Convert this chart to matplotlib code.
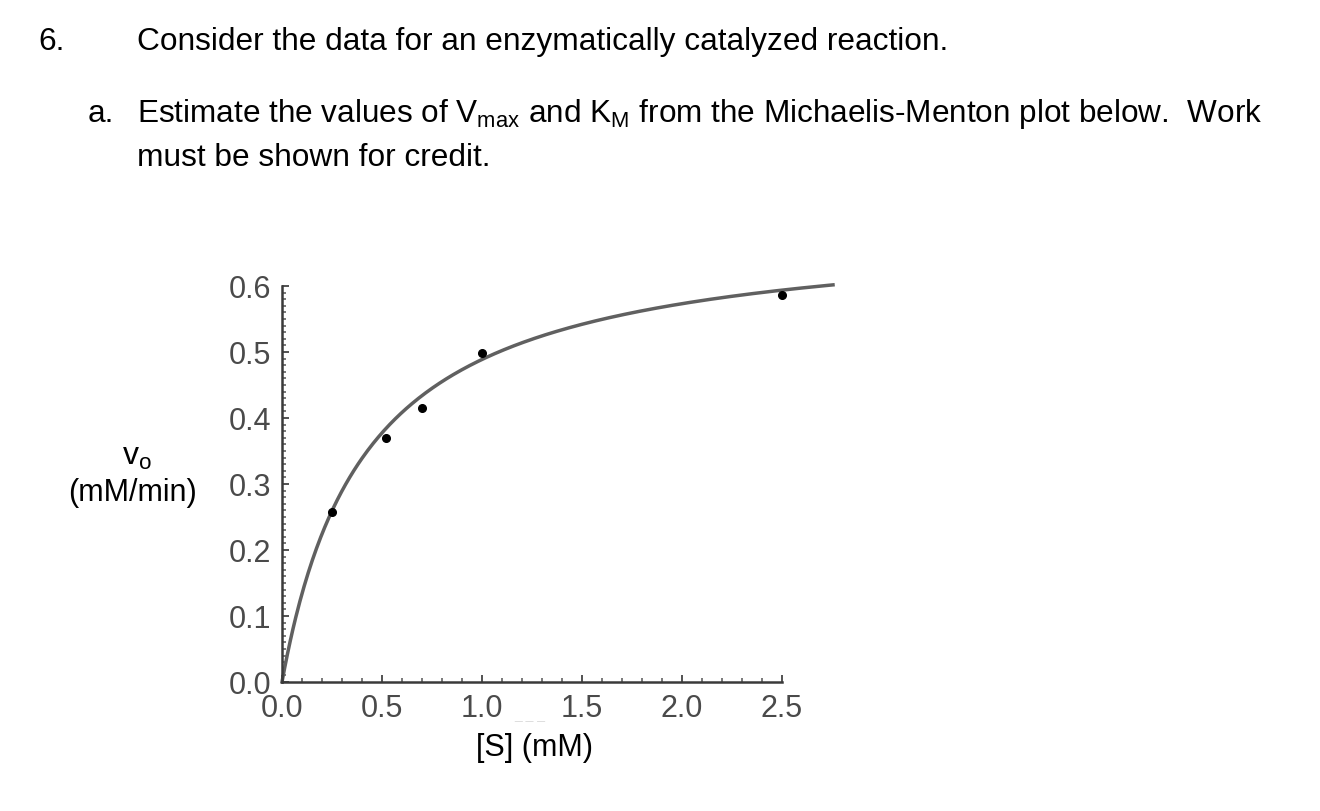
import numpy as np
import matplotlib
matplotlib.use("Agg")
import matplotlib.pyplot as plt
from matplotlib.ticker import MultipleLocator, FormatStrFormatter

plt.rcParams['font.family'] = ['Liberation Sans', 'DejaVu Sans']
plt.rcParams['mathtext.fontset'] = 'custom'
plt.rcParams['mathtext.rm'] = 'Liberation Sans'
plt.rcParams['mathtext.it'] = 'Liberation Sans:italic'

# data
substrate_mM = [0.25, 0.52, 0.70, 1.00, 2.50]
rate_mM_min = [0.257, 0.370, 0.415, 0.498, 0.587]
# fitted Michaelis-Menten curve parameters (estimated from the drawn curve)
vmax_fit = 0.693
km_fit = 0.418
curve_x_end = 2.755
x_ticks = [0.0, 0.5, 1.0, 1.5, 2.0, 2.5]
y_ticks = [0.0, 0.1, 0.2, 0.3, 0.4, 0.5, 0.6]

W, H = 1320, 812
fig = plt.figure(figsize=(W / 100, H / 100), dpi=100)

def fx(px):
    return px / W

def fy(py):
    return 1 - py / H

# header text
fs_head = 22.8
fig.text(fx(38), fy(50), "6.", fontsize=fs_head, va='baseline', ha='left')
fig.text(fx(137), fy(50), "Consider the data for an enzymatically catalyzed reaction.",
         fontsize=fs_head, va='baseline', ha='left')
fig.text(fx(88), fy(122), "a.", fontsize=fs_head, va='baseline', ha='left')
fig.text(fx(137), fy(122),
         r"Estimate the values of V$_{\mathregular{max}}$ and K$_{\mathregular{M}}$ from the Michaelis-Menton plot below.  Work",
         fontsize=22.7, va='baseline', ha='left')
fig.text(fx(137), fy(166), "must be shown for credit.", fontsize=fs_head, va='baseline', ha='left')

# axes
x0, x1 = 282, 782
y0, y1 = 683, 287
ax = fig.add_axes([fx(x0), fy(y0), (x1 - x0) / W, (y0 - y1) / H])
ax.set_xlim(0, 2.5)
ax.set_ylim(0, 0.6)

xs = np.linspace(0, curve_x_end, 400)
ax.plot(xs, vmax_fit * xs / (km_fit + xs), color='#606060', lw=2.5, clip_on=False, zorder=2)
ax.plot(substrate_mM, rate_mM_min, 'o', color='black', ms=5.5, clip_on=False, zorder=3)

for s in ['top', 'right']:
    ax.spines[s].set_visible(False)
for s in ['left', 'bottom']:
    ax.spines[s].set_color('#3a3a3a')
    ax.spines[s].set_linewidth(1.8)

ax.set_xticks(x_ticks)
ax.set_yticks(y_ticks)
ax.xaxis.set_major_formatter(FormatStrFormatter('%.1f'))
ax.yaxis.set_major_formatter(FormatStrFormatter('%.1f'))
ax.xaxis.set_minor_locator(MultipleLocator(0.1))
ax.yaxis.set_minor_locator(MultipleLocator(0.01))
ax.tick_params(which='major', direction='in', length=5, width=1.3, color='#444444',
               labelsize=22, labelcolor='#4a4a4a')
ax.tick_params(which='minor', direction='in', length=3, width=1.1, color='#555555')
ax.tick_params(axis='y', which='major', pad=8)
ax.tick_params(axis='x', which='major', pad=8)

# faint scan artefact between 1.0 and 1.5 tick labels
fig.text(fx(530), fy(718), "_ _ _", fontsize=10, color='#dddddd', ha='center', va='baseline')

# axis labels
fig.text(fx(137), fy(457), r"v$_{\mathregular{o}}$", fontsize=23, ha='center', va='center')
fig.text(fx(132), fy(493), "(mM/min)", fontsize=22, ha='center', va='center')
fig.text(fx(535), fy(748), "[S] (mM)", fontsize=22, ha='center', va='center')

fig.savefig("out.png", dpi=100, facecolor='white')
